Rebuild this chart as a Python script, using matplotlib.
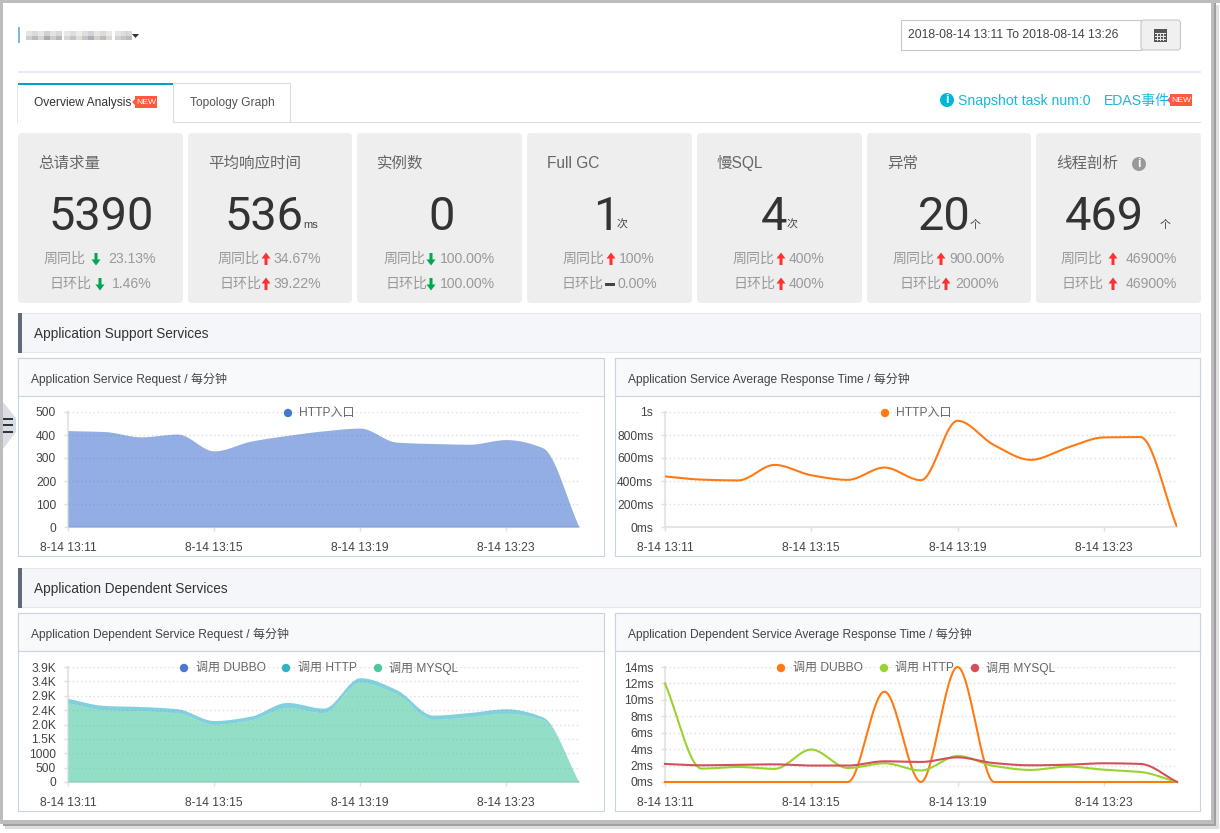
import matplotlib
matplotlib.use("Agg")
import matplotlib.pyplot as plt
import numpy as np
from matplotlib.patches import Rectangle, FancyBboxPatch, Circle, Polygon

W, H = 1220, 833
FONT = ["Liberation Sans", "Noto Sans CJK SC", "DejaVu Sans"]
plt.rcParams["font.family"] = FONT

# stat cards
card_titles = ["总请求量", "平均响应时间", "实例数", "Full GC", "慢SQL", "异常", "线程剖析"]
card_values = ["5390", "536", "0", "1", "4", "20", "469"]
card_units = ["", "ms", "", "次", "次", "个", "个"]
week_values = ["23.13%", "34.67%", "100.00%", "100%", "400%", "900.00%", "46900%"]
day_values = ["1.46%", "39.22%", "100.00%", "0.00%", "400%", "2000%", "46900%"]
week_dirs = ["down", "up", "down", "up", "up", "up", "up"]
day_dirs = ["down", "up", "down", "flat", "up", "up", "up"]

# charts, one value per minute
x_labels = ["8-14 13:11", "8-14 13:15", "8-14 13:19", "8-14 13:23"]
minutes = np.arange(15)
x_tick_minutes = [0, 4, 8, 12]

request = [419, 415, 392, 404, 331, 373, 398, 418, 430, 369, 363, 360, 380, 345, 0]
resp_time = [440, 412, 405, 540, 450, 410, 517, 407, 924, 712, 584, 689, 779, 782, 0]

dep_mysql = [2680, 2445, 2410, 2340, 1955, 2105, 2520, 2350, 3385, 2985, 2125, 2215, 2330, 2120, 0]
dep_http = [155, 150, 150, 143, 130, 128, 178, 156, 152, 145, 143, 143, 153, 90, 0]

dep_t_dubbo = [0, 0, 0, 0, 0, 0, 11, 0, 14, 0, 0, 0, 0, 0, 0]
dep_t_http = [12, 1.63, 1.83, 1.6, 3.95, 1.7, 2.28, 1.4, 3.17, 1.95, 1.47, 1.87, 1.5, 1.22, 0]
dep_t_mysql = [2.2, 2.03, 2.1, 2.15, 2.0, 2.0, 2.52, 2.44, 3.0, 2.3, 2.03, 2.1, 2.28, 2.2, 0]

req_ticks = [0, 100, 200, 300, 400, 500]
time_ticks = [0, 200, 400, 600, 800, 1000]
time_labels = ["0ms", "200ms", "400ms", "600ms", "800ms", "1s"]
dep_ticks = [0, 487.5, 975, 1462.5, 1950, 2437.5, 2925, 3412.5, 3900]
dep_labels = ["0", "500", "1000", "1.5K", "2.0K", "2.4K", "2.9K", "3.4K", "3.9K"]
ms_ticks = [0, 2, 4, 6, 8, 10, 12, 14]
ms_labels = ["0ms", "2ms", "4ms", "6ms", "8ms", "10ms", "12ms", "14ms"]

BLUE = "#4a78cf"
TEAL = "#2eb2c4"
MINT = "#4cc9a0"
ORANGE = "#ff7a14"
GREEN = "#9ad22e"
RED = "#d4505a"


def px(size):
    return size * 0.72


def smooth(values, per_seg=30):
    # monotone cubic through the minute values, like the chart's smooth line
    y = np.asarray(values, dtype=float)
    d = np.diff(y)
    m = np.zeros(len(y))
    for i in range(1, len(y) - 1):
        if d[i - 1] * d[i] > 0:
            m[i] = 2 * d[i - 1] * d[i] / (d[i - 1] + d[i])
    m[0], m[-1] = d[0], d[-1]
    xs, ys = [], []
    for i in range(len(d)):
        t = np.linspace(0, 1, per_seg, endpoint=False)
        h00 = 2 * t**3 - 3 * t**2 + 1
        h10 = t**3 - 2 * t**2 + t
        h01 = -2 * t**3 + 3 * t**2
        h11 = t**3 - t**2
        xs.append(i + t)
        ys.append(h00 * y[i] + h10 * m[i] + h01 * y[i + 1] + h11 * m[i + 1])
    xs.append([len(d)])
    ys.append([y[-1]])
    return np.concatenate(xs), np.concatenate(ys)


fig = plt.figure(figsize=(W / 100, H / 100), dpi=100, facecolor="white")
bg = fig.add_axes([0, 0, 1, 1])
bg.set_xlim(0, W)
bg.set_ylim(H, 0)
bg.axis("off")


def rect(x0, y0, x1, y1, color, edge="none", lw=0, z=1, alpha=None):
    bg.add_patch(Rectangle((x0, y0), x1 - x0, y1 - y0, facecolor=color, edgecolor=edge, linewidth=lw, zorder=z, alpha=alpha))


def label(x, y, s, size, color="#333333", ha="left", **kw):
    bg.text(x, y + 1, s, fontsize=px(size), color=color, ha=ha, va="center", zorder=5, **kw)


def new_badge(x, y):
    rect(x, y, x + 22, y + 12, "#ff5a3c", z=3)
    bg.add_patch(Polygon([(x, y + 3), (x, y + 9), (x - 3, y + 6)], facecolor="#ff5a3c", zorder=3))
    label(x + 11, y + 5, "NEW", 8.5, "white", ha="center")


def arrow(x, y, direction):
    if direction == "flat":
        rect(x - 5, y - 1.5, x + 5, y + 1.5, "#444444", z=4)
        return
    s = -1 if direction == "up" else 1
    color = "#ff3030" if direction == "up" else "#00a651"
    pts = [(x - 1.5, y - 6 * s), (x + 1.5, y - 6 * s), (x + 1.5, y + 0.5 * s), (x + 4.5, y + 0.5 * s),
           (x, y + 6.5 * s), (x - 4.5, y + 0.5 * s), (x - 1.5, y + 0.5 * s)]
    bg.add_patch(Polygon(pts, facecolor=color, zorder=4))


def info_icon(x, y, color, r=7):
    bg.add_patch(Circle((x, y), r, facecolor=color, zorder=4))
    label(x, y - 1, "i", 12, "white", ha="center", fontweight="bold")


# window frame
rect(0, 0, W, 3, "#bdbdbd")
rect(0, 0, 3, 824, "#bdbdbd")
rect(1211, 0, 1214, 824, "#bdbdbd")
rect(1214, 3, 1216, 826, "#9f9f9f")
rect(1216, 5, 1219, 829, "#dedede")
rect(0, 820, 1214, 824, "#bdbdbd")
rect(3, 824, 1216, 826, "#9f9f9f")
rect(5, 826, 1219, 829, "#dedede")

# header, the app name is pixelated in the original
rect(18, 27, 19.5, 43, "#7fb8e0")
blur_x = [26, 32, 38, 44, 50, 56, 64, 70, 76, 82, 88, 94, 100, 106, 115, 121, 126]
blur_c = ["#cfcfcf", "#b8bcc0", "#d5d5d5", "#a9adb2", "#cccccc", "#b8b8b8", "#d8d4d8", "#c4c4c8", "#e0ddd5",
          "#c8c4c4", "#b0b0b4", "#d8d0c8", "#c0bcbc", "#d8d8d8", "#d0d0d0", "#c2c6c6", "#bcbcbc"]
for bx, bc in zip(blur_x, blur_c):
    rect(bx, 31, bx + 6, 36, bc, alpha=0.55)
    rect(bx, 36, bx + 6, 40, bc)
bg.add_patch(Polygon([(132, 34), (139, 34), (135.5, 38)], facecolor="#333333", zorder=3))

rect(901, 20, 1141, 50, "white", "#c8c8c8", 0.8)
bg.add_patch(FancyBboxPatch((1141, 20), 39.5, 30, boxstyle="round,pad=0,rounding_size=3",
                            facecolor="#f0f0f0", edgecolor="#c8c8c8", linewidth=0.8))
label(908, 34, "2018-08-14 13:11 To 2018-08-14 13:26", 12.2, "#444444")
rect(1154, 29, 1167, 42, "#555555", z=3)
for ly in (33, 36, 39):
    rect(1155, ly, 1166, ly + 1, "#e8e8e8", z=4)
for lx in (1157, 1160, 1163):
    rect(lx, 33, lx + 1, 41, "#e8e8e8", z=4)

rect(18, 71, 1201, 73, "#e6ecf1")

# tabs
rect(18, 122, 1201, 123, "#dddddd")
rect(18, 83, 173, 123, "white", z=2)
rect(18, 83, 173, 85, "#00a0c8", z=3)
rect(17, 85, 18, 123, "#e4e4e4", z=3)
rect(173, 83, 290, 122, "white", "#dddddd", 0.8, z=2)
label(34, 102, "Overview Analysis", 12)
new_badge(135, 96)
label(190, 102, "Topology Graph", 12, "#555555")
info_icon(947, 100, "#00b8d4")
label(958, 100, "Snapshot task num:0", 14, "#1ab8d8")
label(1104, 100, "EDAS事件", 14, "#1ab8d8")
new_badge(1170, 94)

# stat cards
card_edges = [(18, 183), (188, 352), (357, 522), (527, 692), (697, 862), (867, 1031), (1036, 1201)]
value_x = [49, 224, 428, 593, 761, 918, 1065]
unit_x = [0, 303, 0, 617, 787, 970, 1160]
# x of prefix, arrow, value for the two comparison rows
week_x = [(44, 96, 108), (218, 266, 274), (384, 431, 440), (563, 611, 619), (733, 781, 789), (893, 941, 949), (1061, 1113, 1126)]
day_x = [(50, 100, 112), (219, 266, 274), (385, 431, 440), (561, 610, 617), (733, 781, 789), (899, 946, 955), (1061, 1113, 1126)]

for i, (x0, x1) in enumerate(card_edges):
    bg.add_patch(FancyBboxPatch((x0, 133), x1 - x0, 170, boxstyle="round,pad=0,rounding_size=4",
                                facecolor="#eeeeee", edgecolor="none", zorder=1))
    label(x0 + 20, 162, card_titles[i], 15.5, "#666666")
    bg.text(value_x[i], 230, card_values[i], fontsize=px(47), color="#333333", family="Roboto",
            ha="left", va="baseline", zorder=5)
    if card_units[i]:
        label(unit_x[i], 224, card_units[i], 11, "#444444")
    wx, wa, wv = week_x[i]
    label(wx, 258, "周同比", 14, "#999999")
    arrow(wa, 259, week_dirs[i])
    label(wv, 258, week_values[i], 14, "#999999")
    dx, da, dv = day_x[i]
    label(dx, 283, "日环比", 14, "#999999")
    arrow(da, 284, day_dirs[i])
    label(dv, 283, day_values[i], 14, "#999999")
info_icon(1139, 164, "#999999")

# side handle
bg.add_patch(Polygon([(3, 402), (16, 418), (16, 432), (3, 449)], facecolor="#d9dde5", zorder=2))
for hy in (418, 424, 431):
    rect(3, hy, 13, hy + 2, "#333333", z=3)

# section bars
for top, title in [(313, "Application Support Services"), (568, "Application Dependent Services")]:
    rect(18, top, 1200, top + 38.5, "#f4f6fa", "#e3e8ef", 0.8)
    rect(18, top, 22, top + 39.5, "#5f6b76", z=2)
    label(34, top + 20, title, 13.6)


def panel(x0, x1, top, title):
    rect(x0, top, x1 - 1, top + 198, "white", "#c8d4e3", 0.8)
    rect(x0, top, x1 - 1, top + 38, "#f7f9fb", "#c8d4e3", 0.8, z=2)
    label(x0 + 13, top + 20, title, 12, "#444444")


panel(18, 605, 358, "Application Service Request / 每分钟")
panel(615, 1201, 358, "Application Service Average Response Time / 每分钟")
panel(18, 605, 613, "Application Dependent Service Request / 每分钟")
panel(615, 1201, 613, "Application Dependent Service Average Response Time / 每分钟")


def chart(left, right, top, bottom, ymax, ticks, labels):
    ax = fig.add_axes([left / W, 1 - bottom / H, (right - left) / W, (bottom - top) / H])
    ax.patch.set_alpha(0)
    ax.set_xlim(0, 14)
    ax.set_ylim(0, ymax)
    ax.set_xticks(x_tick_minutes)
    ax.set_xticklabels(x_labels)
    ax.set_yticks(ticks)
    ax.set_yticklabels(labels)
    ax.tick_params(axis="both", colors="#e0e0e0", labelcolor="#444444", labelsize=px(12), length=3, width=1)
    ax.tick_params(axis="x", pad=7.5)
    ax.tick_params(axis="y", pad=5.5)
    for side in ("top", "right"):
        ax.spines[side].set_visible(False)
    for side in ("left", "bottom"):
        ax.spines[side].set_color("#e6e6e6")
        ax.spines[side].set_linewidth(1.5)
        ax.spines[side].set_zorder(0.5)
    ax.set_axisbelow(True)
    ax.grid(axis="y", color="#dddddd", linestyle=(0, (1, 2)), linewidth=1)
    return ax


def legend(entries):
    for dot_x, text_x, y, color, name in entries:
        bg.add_patch(Circle((dot_x, y), 4.2, facecolor=color, zorder=6))
        label(text_x, y - 1, name, 12, "#666666")


# request chart
ax1 = chart(68, 579, 412, 527, 500, req_ticks, req_ticks)
sx, sy = smooth(request)
ax1.fill_between(sx, 0, sy, color=BLUE, alpha=0.6, linewidth=0)

# response time chart
ax2 = chart(665, 1177, 412, 527, 1000, time_ticks, time_labels)
sx, sy = smooth(resp_time)
ax2.plot(sx, sy, color=ORANGE, linewidth=1.5)

# dependent request chart, stacked
ax3 = chart(68, 579, 667, 782, 3900, dep_ticks, dep_labels)
dep_top = np.array(dep_mysql) + np.array(dep_http)
sx, s_mysql = smooth(dep_mysql)
sx, s_top = smooth(dep_top)
ax3.fill_between(sx, 0, s_mysql, color=MINT, alpha=0.6, linewidth=0)
ax3.fill_between(sx, s_mysql, s_top, color=TEAL, alpha=0.6, linewidth=0)

# dependent response time chart
ax4 = chart(665, 1177, 667, 782, 14, ms_ticks, ms_labels)
for series, color in [(dep_t_dubbo, ORANGE), (dep_t_http, GREEN), (dep_t_mysql, RED)]:
    sx, sy = smooth(series)
    ax4.plot(sx, sy, color=color, linewidth=1.5, clip_on=False)

# legends sit above the charts, so they get their own overlay
overlay = fig.add_axes([0, 0, 1, 1])
overlay.set_xlim(0, W)
overlay.set_ylim(H, 0)
overlay.axis("off")
bg = overlay
legend([(288, 299, 413, BLUE, "HTTP入口")])
legend([(885, 896, 413, ORANGE, "HTTP入口")])
legend([(184, 196, 668, BLUE, "调用 DUBBO"), (286, 298, 668, TEAL, "调用 HTTP"), (378, 389, 668, MINT, "调用 MYSQL")])
legend([(781, 793, 668, ORANGE, "调用 DUBBO"), (884, 895, 668, GREEN, "调用 HTTP"), (975, 986, 668, RED, "调用 MYSQL")])

fig.savefig("out.png", dpi=100)
